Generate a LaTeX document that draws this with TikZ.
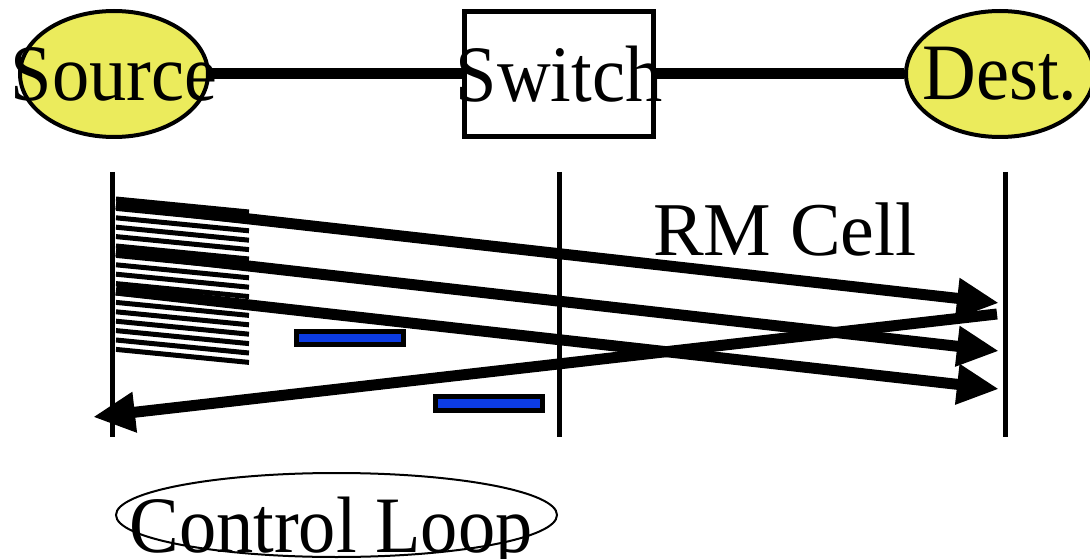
\documentclass[tikz,border=0pt]{standalone}
\usepackage{fontspec}
\setmainfont{Liberation Serif}
\usepackage{graphicx}
\usetikzlibrary{positioning}
\usetikzlibrary{shapes.geometric}
\usetikzlibrary{arrows.meta}
\definecolor{nodeC}{RGB}{235,235,92}
\definecolor{rmC}{RGB}{12,60,228}
\tikzstyle{ynd}=[draw, line width=4pt, fill=nodeC, shape=ellipse, inner sep=0pt, minimum width=188pt, minimum height=126pt]
\tikzstyle{snd}=[draw, line width=5pt, fill=white, shape=rectangle, inner sep=0pt, minimum width=189pt, minimum height=125pt]
\tikzstyle{lnd}=[inner sep=0pt, font=\fontsize{80}{90}\selectfont]
\tikzstyle{lpe}=[draw, line width=2pt, shape=ellipse, inner sep=0pt, minimum width=441pt, minimum height=84pt]
\tikzstyle{rmc}=[draw, line width=5pt, fill=rmC, shape=rectangle, inner sep=0pt, minimum width=106.5pt, minimum height=13.5pt]
\tikzstyle{link}=[line width=11pt]
\tikzstyle{tline}=[line width=5pt]
\tikzstyle{cell}=[line width=5pt]
\tikzstyle{marrow}=[line width=11pt, -{Triangle[length=42pt,width=38pt]}]
\def\ynd{\node[style=ynd]}
\def\snd{\node[style=snd]}
\def\lnd{\node[style=lnd]}
\def\rmc{\node[style=rmc]}
\def\marrow{\draw[style=marrow]}
\def\nar#1{\scalebox{0.93}[1]{#1}}
\def\cell#1{\draw[style=cell] (116,#1) -- ++(133,13);}

\begin{document}
\begin{tikzpicture}[x=1pt, y=-1pt]
      \useasboundingbox (0,0) rectangle (1090,559);
      % nodes
      \ynd (src) at (114,74)  {};
      \snd (sw)  at (559,74)  {};
      \ynd (dst) at (1000,74) {};
      \draw[style=link] (src.east) -- (sw.west);
      \draw[style=link] (sw.east) -- (dst.west);
      \lnd (srcT) at (src) {\nar{Source}};
      \lnd (swT)  at (sw)  {\nar{Switch}};
      \lnd (dstT) at (dst) {\nar{Dest.}};
      % time lines
      \coordinate (sT) at (112,172);
      \coordinate (sB) at (112,437);
      \coordinate (wT) at (559,172);
      \coordinate (wB) at (559,437);
      \coordinate (dT) at (1005,172);
      \coordinate (dB) at (1005,437);
      \draw[style=tline] (sT) -- (sB);
      \draw[style=tline] (wT) -- (wB);
      \draw[style=tline] (dT) -- (dB);
      % cells
      \cell{199.0} \cell{208.4} \cell{217.8} \cell{227.2}
      \cell{236.6} \cell{246.0} \cell{255.4} \cell{264.8}
      \cell{274.2} \cell{283.6} \cell{293.0} \cell{302.4}
      \cell{311.8} \cell{321.2} \cell{330.6} \cell{340.0}
      \cell{349.4}
      % rm cells
      \rmc (rm0) at (349.8,338) {};
      \rmc (rm1) at (489,403.5) {};
      % arrows
      \coordinate (a0s) at (116,204);
      \coordinate (a0e) at (999,303);
      \coordinate (a1s) at (116,251);
      \coordinate (a1e) at (999,351);
      \coordinate (a2s) at (116,290);
      \coordinate (a2e) at (999,389);
      \coordinate (bks) at (997,314);
      \coordinate (bke) at (93,417);
      \marrow (a0s) -- (a0e);
      \marrow (a1s) -- (a1e);
      \marrow (a2s) -- (a2e);
      \marrow (bks) -- (bke);
      \lnd (rmT) [anchor=base] at (785,255) {\fontsize{76}{90}\selectfont RM Cell};
      % loop
      \node[style=lpe] (lp) at (336.5,515) {};
      \lnd (lpT) [anchor=base] at (331,552) {\nar{Control Loop}};
\end{tikzpicture}
\end{document}
